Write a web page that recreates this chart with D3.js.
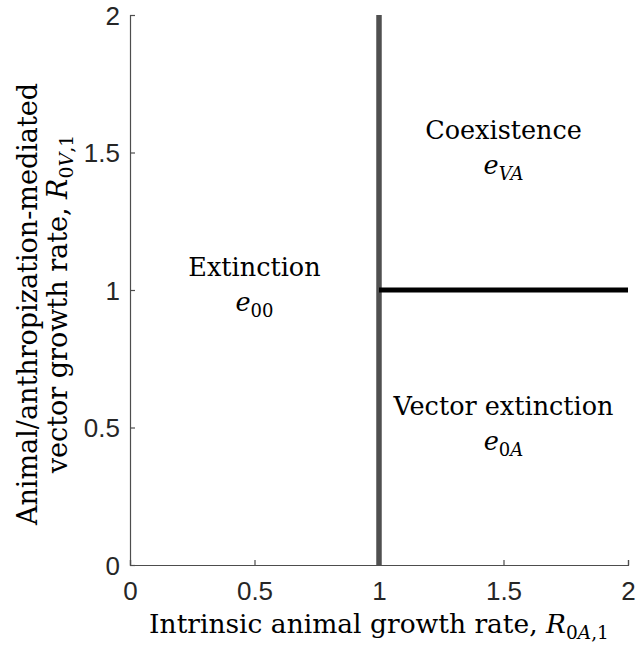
<!DOCTYPE html>
<html>
<head>
<meta charset="utf-8">
<script src="https://cdn.jsdelivr.net/npm/d3@7"></script>
<style>
  body { margin: 0; background: #fff; }
</style>
</head>
<body>
<script>
// ticks on both axes
var xTicks = [0, 0.5, 1, 1.5, 2];
var yTicks = [0, 0.5, 1, 1.5, 2];
var xDomain = [0, 2];
var yDomain = [0, 2];

// boundary lines between regions
var vLine = [[1, 0], [1, 2]];   // R0A,1 = 1
var hLine = [[1, 1], [2, 1]];   // R0V,1 = 1 for R0A,1 > 1

// region labels: name, equilibrium subscript, anchor (x, y of name baseline)
var regionNames = ["Extinction", "Coexistence", "Vector extinction"];
var regionSubs = ["00", "VA", "0A"];
var regionX = [0.5, 1.5, 1.5];
var regionY = [1.05, 1.55, 0.545];

var W = 636, H = 645;
var margin = {top: 15, right: 8, bottom: 80, left: 130};
var width = W - margin.left - margin.right;
var height = H - margin.top - margin.bottom;
var SERIF = "'DejaVu Serif', 'Liberation Serif', serif";
var SANS = "'Liberation Sans', Arial, sans-serif";

var svg = d3.select("body").append("svg")
    .attr("width", W)
    .attr("height", H);

var g = svg.append("g")
    .attr("transform", "translate(" + margin.left + "," + margin.top + ")");

var x = d3.scaleLinear().domain(xDomain).range([0, width]);
var y = d3.scaleLinear().domain(yDomain).range([height, 0]);

//axes (MATLAB style: inward ticks, box off)
var xAxis = d3.axisBottom(x).tickValues(xTicks).tickSize(-5).tickPadding(12)
    .tickFormat(d3.format(""));
var yAxis = d3.axisLeft(y).tickValues(yTicks).tickSize(-5).tickPadding(10)
    .tickFormat(d3.format(""));

var gx = g.append("g").attr("transform", "translate(0," + height + ")").call(xAxis);
var gy = g.append("g").call(yAxis);
[gx, gy].forEach(function(a) {
    a.attr("font-family", SANS).attr("font-size", 26);
    a.select(".domain").attr("stroke", "#4d4d4d").attr("stroke-width", 1.2);
    a.selectAll(".tick line").attr("stroke", "#4d4d4d").attr("stroke-width", 1.2);
    a.selectAll(".tick text").attr("fill", "#262626");
});
gx.selectAll(".tick text").attr("dy", "0.9em");
gy.selectAll(".tick text").attr("dy", "0.36em");

//boundary lines
var line = d3.line().x(function(d) { return x(d[0]); }).y(function(d) { return y(d[1]); });
g.append("path").datum(vLine).attr("d", line)
    .attr("stroke", "#505050").attr("stroke-width", 5.5).attr("fill", "none");
g.append("path").datum(hLine).attr("d", line)
    .attr("stroke", "#000").attr("stroke-width", 5).attr("fill", "none");

//region labels
regionNames.forEach(function(name, i) {
    var cx = x(regionX[i]), cy = y(regionY[i]);
    g.append("text")
        .attr("x", cx).attr("y", cy)
        .attr("text-anchor", "middle")
        .style("font-family", SERIF)
        .attr("font-size", 25.5)
        .text(name);
    var t = g.append("text")
        .attr("x", cx).attr("y", cy + 35)
        .attr("text-anchor", "middle")
        .style("font-family", SERIF)
        .attr("font-size", 25.5);
    t.append("tspan").attr("font-style", "italic").text("e");
    regionSubs[i].split("").forEach(function(c, k) {
        t.append("tspan")
            .attr("font-size", 18)
            .attr("dy", k === 0 ? 6 : null)
            .attr("font-style", /[A-Z]/.test(c) ? "italic" : "normal")
            .text(c);
    });
});

//axis titles
function addR(t, size, subParts) {
    t.append("tspan").attr("font-style", "italic").text("R");
    subParts.forEach(function(p, k) {
        t.append("tspan")
            .attr("font-size", size * 0.7)
            .attr("dy", k === 0 ? size * 0.22 : null)
            .attr("font-style", p[1] ? "italic" : "normal")
            .text(p[0]);
    });
}

var xt = svg.append("text")
    .attr("x", margin.left + width / 2).attr("y", 633)
    .attr("text-anchor", "middle")
    .style("font-family", SERIF)
    .attr("font-size", 26.5);
xt.append("tspan").text("Intrinsic animal growth rate, ");
addR(xt, 26.5, [["0", false], ["A", true], [",1", false]]);

var yt = svg.append("g").attr("transform", "translate(0," + (margin.top + height / 2 + 14) + ") rotate(-90)");
yt.append("text")
    .attr("x", 0).attr("y", 37)
    .attr("text-anchor", "middle")
    .style("font-family", SERIF)
    .attr("font-size", 27)
    .text("Animal/anthropization-mediated");
var yt2 = yt.append("text")
    .attr("x", 0).attr("y", 67)
    .attr("text-anchor", "middle")
    .style("font-family", SERIF)
    .attr("font-size", 27);
yt2.append("tspan").text("vector growth rate, ");
addR(yt2, 27, [["0", false], ["V", true], [",1", false]]);
</script>
</body>
</html>
